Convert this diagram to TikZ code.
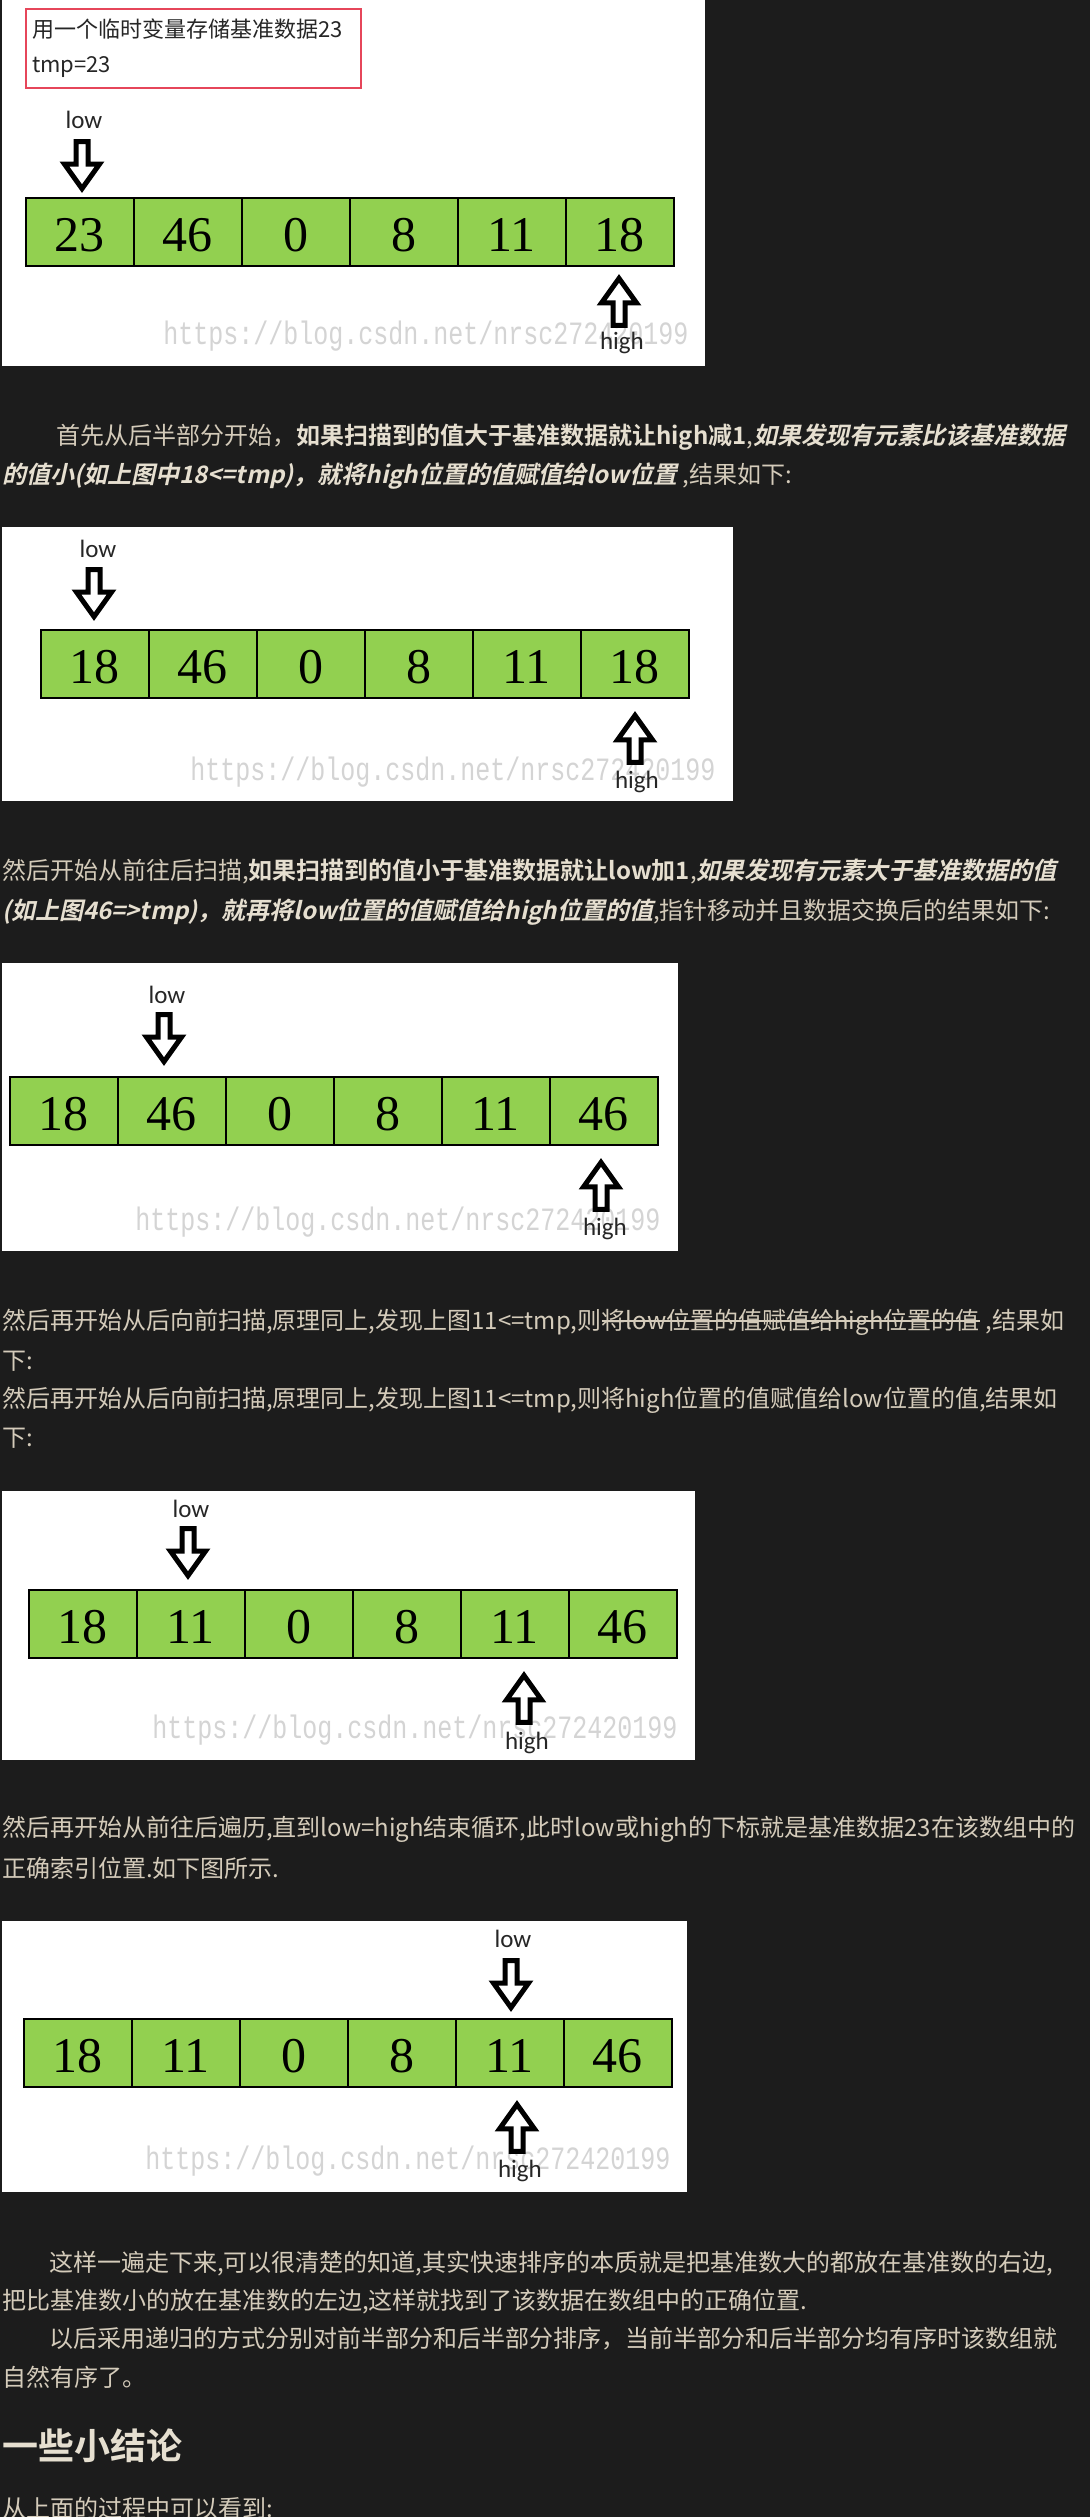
\documentclass[tikz,border=0pt]{standalone}
\usepackage{fontspec}
\usepackage{graphicx}
\setmainfont{Noto Sans CJK SC}[BoldFont={Noto Sans CJK SC Bold},ItalicFont={Noto Sans CJK SC},ItalicFeatures={FakeSlant=0.22},BoldItalicFont={Noto Sans CJK SC Bold},BoldItalicFeatures={FakeSlant=0.22}]
\newfontfamily\numfont{Liberation Serif}
\newfontfamily\ptrfont{Carlito}
\newfontfamily\wmfont{Liberation Mono}
\usetikzlibrary{calc,positioning}
\definecolor{pagebg}{RGB}{28,28,28}
\definecolor{txtc}{RGB}{212,203,186}
\definecolor{txtbold}{RGB}{230,223,208}
\definecolor{cellgreen}{RGB}{146,208,80}
\definecolor{boxred}{RGB}{230,70,90}
\definecolor{markgray}{RGB}{212,212,212}
\newcommand{\bfpart}[1]{{\color{txtbold}\bfseries #1}}
\newcommand{\bipart}[1]{{\color{txtbold}\bfseries\itshape #1}}
\newcommand{\wmtext}{\scalebox{1}[1.3]{https://blog.csdn.net/nrsc272420199}}

\begin{document}
\begin{tikzpicture}[x=1pt,y=-1pt,
        cell/.style={draw=black,line width=1.5pt,fill=cellgreen,anchor=north west,minimum width=108pt,minimum height=68pt,text height=40pt,text depth=0pt,font=\fontsize{50}{50}\numfont},
        txt/.style={anchor=base west,text=txtc,font=\fontsize{24}{24}\selectfont},
        ptrlabel/.style={anchor=base,text=black!85,font=\fontsize{25}{25}\ptrfont},
        wmark/.style={text=markgray,font=\fontsize{25}{25}\wmfont},
        ptr/.pic={\draw [black,line width=5pt,fill=white,line join=miter] (-6,-47) -- (6,-47) -- (6,-24.5) -- (17.5,-24.5) -- (0,0) -- (-17.5,-24.5) -- (-6,-24.5) -- cycle;}]
        \tikzstyle{every node}+=[inner sep=0pt]
        \useasboundingbox (0,0) rectangle (1090,2517);
        \fill [pagebg] (0,0) rectangle (1090,2517);

        \fill [white] (2,0) rectangle (705,366);
        \node [draw=boxred,line width=1.5pt,anchor=north west,minimum width=335pt,minimum height=79pt] (tmpbox) at (25,8) {};
        \node [anchor=base west,text=black!85,font=\fontsize{22}{22}\selectfont] (tmpdesc) at (32,37) {用一个临时变量存储基准数据23};
        \node [anchor=base west,text=black!85,font=\fontsize{22}{22}\selectfont] (tmpval) at (32,72) {tmp=23};
        \foreach \v [count=\i] in {23,46,0,8,11,18}
            \node [cell] (a\i) at (25+108*\i-108,197) {\v};
        \node [ptrlabel] (lowa) at (84,128) {low};
        \pic (lowptra) at (82,188.6) {ptr};
        \node [wmark] (wma) at (426,336) {\wmtext};
        \pic (highptra) [rotate=180] at (619,278.4) {ptr};
        \node [ptrlabel] (higha) at (622,349) {high};

        \node [txt] (p1a) at (56,444) {首先从后半部分开始，\bfpart{如果扫描到的值大于基准数据就让high减1},\bipart{如果发现有元素比该基准数据}};
        \node [txt] (p1b) at (2,483) {\bipart{的值小(如上图中18<=tmp)，就将high位置的值赋值给low位置}\ ,结果如下:};

        \fill [white] (2,527) rectangle (733,801);
        \foreach \v [count=\i] in {18,46,0,8,11,18}
            \node [cell] (b\i) at (40+108*\i-108,629) {\v};
        \node [ptrlabel] (lowb) at (98,557) {low};
        \pic (lowptrb) at (94,616.6) {ptr};
        \node [wmark] (wmb) at (453,772) {\wmtext};
        \pic (highptrb) [rotate=180] at (635,715.4) {ptr};
        \node [ptrlabel] (highb) at (637,788) {high};

        \node [txt] (p2a) at (2,879) {然后开始从前往后扫描,\bfpart{如果扫描到的值小于基准数据就让low加1},\bipart{如果发现有元素大于基准数据的值}};
        \node [txt] (p2b) at (2,919) {\bipart{(如上图46=>tmp)，就再将low位置的值赋值给high位置的值},指针移动并且数据交换后的结果如下:};

        \fill [white] (2,963) rectangle (678,1251);
        \foreach \v [count=\i] in {18,46,0,8,11,46}
            \node [cell] (c\i) at (9+108*\i-108,1076) {\v};
        \node [ptrlabel] (lowc) at (167,1003) {low};
        \pic (lowptrc) at (164,1061.6) {ptr};
        \node [wmark] (wmc) at (398,1222) {\wmtext};
        \pic (highptrc) [rotate=180] at (601,1162.4) {ptr};
        \node [ptrlabel] (highc) at (605,1235) {high};

        \node [txt] (p3a) at (2,1329) {然后再开始从后向前扫描,原理同上,发现上图11<=tmp,则};
        \node [txt] (p3b) at (p3a.base east) {将low位置的值赋值给high位置的值};
        \node [txt] (p3c) at (p3b.base east) {\ ,结果如};
        \draw [txtc,line width=1.3pt] ($(p3b.base west)+(0,-8)$) -- ($(p3b.base east)+(0,-8)$);
        \node [txt] (p3d) at (2,1369) {下:};
        \node [txt] (p3e) at (2,1407) {然后再开始从后向前扫描,原理同上,发现上图11<=tmp,则将high位置的值赋值给low位置的值,结果如};
        \node [txt] (p3f) at (2,1446) {下:};

        \fill [white] (2,1491) rectangle (695,1760);
        \foreach \v [count=\i] in {18,11,0,8,11,46}
            \node [cell] (d\i) at (28+108*\i-108,1589) {\v};
        \node [ptrlabel] (lowd) at (191,1517) {low};
        \pic (lowptrd) at (188,1575.6) {ptr};
        \node [wmark] (wmd) at (415,1730) {\wmtext};
        \pic (highptrd) [rotate=180] at (524,1675.4) {ptr};
        \node [ptrlabel] (highd) at (527,1749) {high};

        \node [txt] (p4a) at (2,1836) {然后再开始从前往后遍历,直到low=high结束循环,此时low或high的下标就是基准数据23在该数组中的};
        \node [txt] (p4b) at (2,1877) {正确索引位置.如下图所示.};

        \fill [white] (2,1921) rectangle (687,2192);
        \foreach \v [count=\i] in {18,11,0,8,11,46}
            \node [cell] (e\i) at (23+108*\i-108,2018) {\v};
        \node [ptrlabel] (lowe) at (513,1947) {low};
        \pic (lowptre) at (511,2007.6) {ptr};
        \node [wmark] (wme) at (408,2161) {\wmtext};
        \pic (highptre) [rotate=180] at (517,2104.4) {ptr};
        \node [ptrlabel] (highe) at (520,2177) {high};

        \node [txt] (p5a) at (49,2271) {这样一遍走下来,可以很清楚的知道,其实快速排序的本质就是把基准数大的都放在基准数的右边,};
        \node [txt] (p5b) at (2,2309) {把比基准数小的放在基准数的左边,这样就找到了该数据在数组中的正确位置.};
        \node [txt] (p5c) at (49,2347) {以后采用递归的方式分别对前半部分和后半部分排序，当前半部分和后半部分均有序时该数组就};
        \node [txt] (p5d) at (2,2386) {自然有序了。};
        \node [txt,text=txtbold,font=\fontsize{36}{36}\selectfont\bfseries] (summary) at (2,2459) {一些小结论};
        \node [txt] (p5e) at (2,2517) {从上面的过程中可以看到:};
\end{tikzpicture}
\end{document}
